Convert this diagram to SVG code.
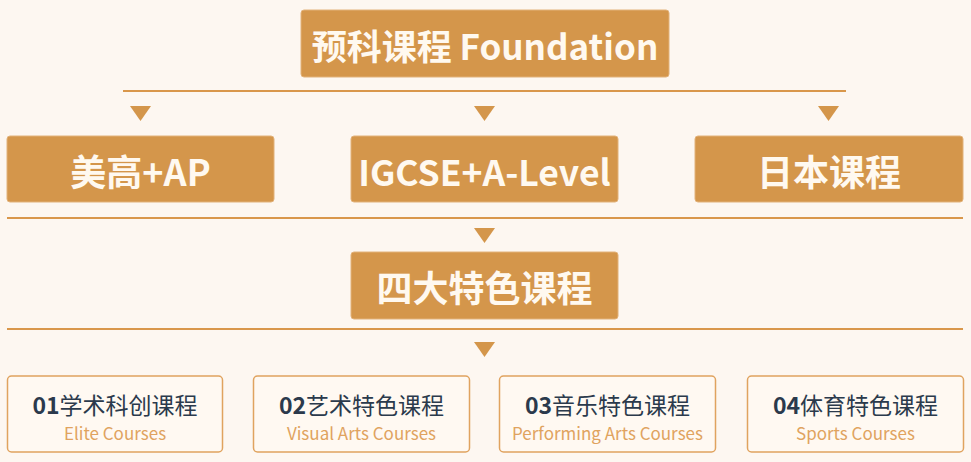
<svg xmlns="http://www.w3.org/2000/svg" width="971" height="462" viewBox="0 0 971 462">
<style>
.bg{fill:#FDF7F1}
.solid{fill:#D4964B;stroke:#E2B27A;stroke-width:1}
.solid-t{fill:#FFF9F0;font-family:"Noto Sans CJK SC","Noto Sans",sans-serif;font-weight:bold;text-anchor:middle;dominant-baseline:central}
.line{stroke:#D9974B;stroke-width:2;fill:none}
.tri{fill:#D4964B}
.card{fill:#FFF9F2;stroke:#E0A35F;stroke-width:1.5}
.card-t{fill:#2B3A4C;font-family:"Noto Sans CJK SC","Noto Sans",sans-serif;font-size:23px;text-anchor:middle;dominant-baseline:central}
.card-n{font-weight:bold}
.card-s{fill:#E0A35F;font-family:"Noto Sans CJK SC","Noto Sans",sans-serif;font-size:17px;text-anchor:middle;dominant-baseline:central}
</style>
<rect class="bg" x="0" y="0" width="971" height="462"/>
<g id="connectors">
<line class="line" x1="123" y1="91" x2="846" y2="91"/>
<polygon class="tri" points="130,106 151,106 140.5,121"/>
<polygon class="tri" points="474,106 495,106 484.5,121"/>
<polygon class="tri" points="818,106 839,106 828.5,121"/>
<line class="line" x1="7" y1="218" x2="963" y2="218"/>
<polygon class="tri" points="474,228 495,228 484.5,243"/>
<line class="line" x1="7" y1="329" x2="963" y2="329"/>
<polygon class="tri" points="474,342 495,342 484.5,357"/>
</g>
<g id="foundation">
<rect class="solid" x="301" y="10" width="368" height="67" rx="3"/>
<text class="solid-t" x="485" y="44" font-size="35">预科课程 Foundation</text>
</g>
<g id="us-ap">
<rect class="solid" x="7" y="136" width="267" height="66" rx="3"/>
<text class="solid-t" x="140.5" y="170" font-size="36">美高+AP</text>
</g>
<g id="igcse">
<rect class="solid" x="351" y="136" width="267" height="66" rx="3"/>
<text class="solid-t" x="484.5" y="170" font-size="35.5">IGCSE+A-Level</text>
</g>
<g id="japan">
<rect class="solid" x="695" y="136" width="268" height="66" rx="3"/>
<text class="solid-t" x="829" y="170" font-size="36">日本课程</text>
</g>
<g id="four">
<rect class="solid" x="351" y="252" width="267" height="67" rx="3"/>
<text class="solid-t" x="484.5" y="286" font-size="36">四大特色课程</text>
</g>
<g id="c01">
<rect class="card" x="7.5" y="376" width="215" height="76" rx="4"/>
<text class="card-t" x="115" y="404"><tspan class="card-n">01</tspan>学术科创课程</text>
<text class="card-s" x="115" y="432">Elite Courses</text>
</g>
<g id="c02">
<rect class="card" x="253.5" y="376" width="216" height="76" rx="4"/>
<text class="card-t" x="361.5" y="404"><tspan class="card-n">02</tspan>艺术特色课程</text>
<text class="card-s" x="361.5" y="432">Visual Arts Courses</text>
</g>
<g id="c03">
<rect class="card" x="499.5" y="376" width="216" height="76" rx="4"/>
<text class="card-t" x="607.5" y="404"><tspan class="card-n">03</tspan>音乐特色课程</text>
<text class="card-s" x="607.5" y="432">Performing Arts Courses</text>
</g>
<g id="c04">
<rect class="card" x="747.5" y="376" width="216" height="76" rx="4"/>
<text class="card-t" x="855.5" y="404"><tspan class="card-n">04</tspan>体育特色课程</text>
<text class="card-s" x="855.5" y="432">Sports Courses</text>
</g>
</svg>
